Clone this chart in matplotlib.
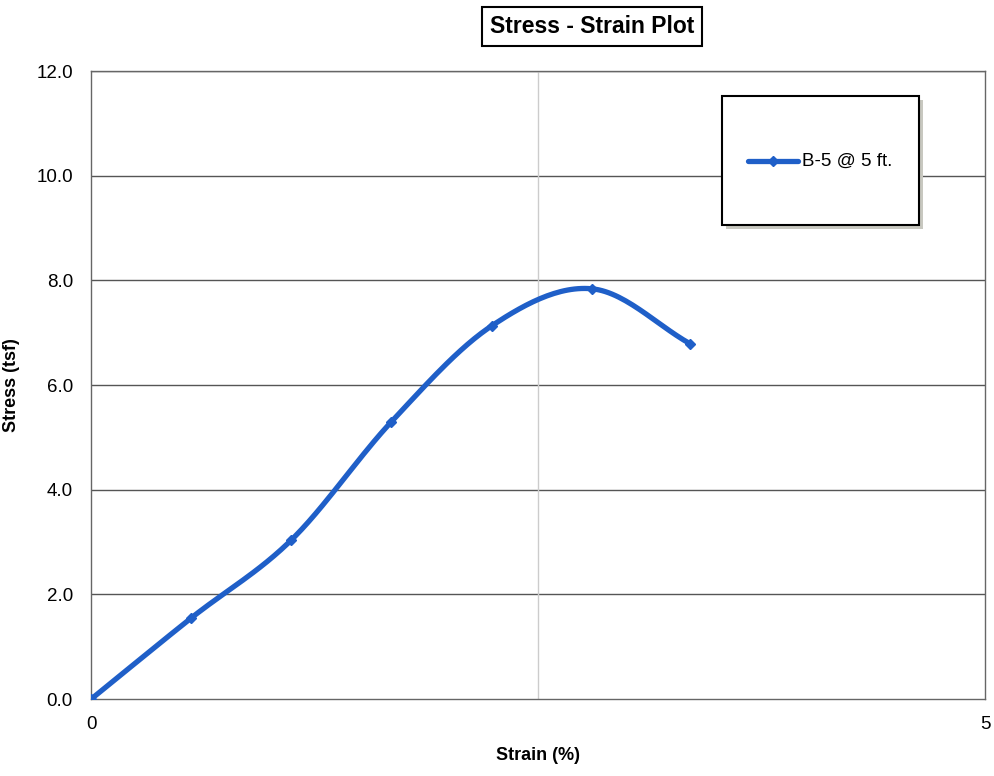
import matplotlib.pyplot as plt
import numpy as np
from matplotlib.patches import FancyBboxPatch

plt.rcParams['font.family'] = ['Liberation Sans', 'DejaVu Sans']

# data
strain = [0.0, 0.56, 1.12, 1.68, 2.24, 2.80, 3.35]
stress = [0.0, 1.55, 3.04, 5.30, 7.13, 7.84, 6.79]
series_label = 'B-5 @ 5 ft.'
yticks = [0, 2, 4, 6, 8, 10, 12]

LINE_COLOR = '#1f5fc8'


def smooth(x, y, n=30):
    """Catmull-Rom curve through the points (like Excel's smoothed line)."""
    x = np.asarray(x, float)
    y = np.asarray(y, float)
    px = np.concatenate([[2 * x[0] - x[1]], x, [2 * x[-1] - x[-2]]])
    py = np.concatenate([[2 * y[0] - y[1]], y, [2 * y[-1] - y[-2]]])
    xs, ys = [], []
    t = np.linspace(0, 1, n)
    for i in range(1, len(px) - 2):
        for arr, out in ((px, xs), (py, ys)):
            p0, p1, p2, p3 = arr[i - 1:i + 3]
            out.extend(0.5 * ((2 * p1) + (-p0 + p2) * t
                              + (2 * p0 - 5 * p1 + 4 * p2 - p3) * t ** 2
                              + (-p0 + 3 * p1 - 3 * p2 + p3) * t ** 3))
    return np.array(xs), np.array(ys)


fig = plt.figure(figsize=(9.95, 7.76), dpi=100)
ax = fig.add_axes([0.0915, 0.099, 0.8985, 0.8095])

sx, sy = smooth(strain, stress)
ax.plot(sx, sy, color=LINE_COLOR, linewidth=3.8, solid_capstyle='round', zorder=3)
ax.plot(strain, stress, linestyle='none', marker='D', markersize=5,
        color=LINE_COLOR, zorder=4)

ax.set_xlim(0, 5)
ax.set_ylim(0, 12)
ax.set_xticks([0, 5])
ax.set_xticklabels(['0', '5'])
ax.set_yticks(yticks)
ax.set_yticklabels([f'{v:.1f}' for v in yticks])
ax.tick_params(axis='y', length=0, labelsize=13.5, pad=13)
ax.tick_params(axis='x', length=0, labelsize=13.5, pad=12)

for v in yticks[1:]:
    ax.axhline(v, color='#555555', linewidth=1.0, zorder=1)
ax.axvline(2.5, color='#cccccc', linewidth=1.0, zorder=1)
for s in ax.spines.values():
    s.set_color('#666666')
    s.set_linewidth(1.0)

ax.set_xlabel('Strain (%)', fontsize=13, fontweight='bold', labelpad=10)
ax.set_ylabel('Stress (tsf)', fontsize=13, fontweight='bold', labelpad=12)

# title box
fig.text(0.595, 0.966, 'Stress - Strain Plot', ha='center', va='center',
         fontsize=16.5, fontweight='bold',
         bbox=dict(boxstyle='square,pad=0.35', facecolor='white',
                   edgecolor='black', linewidth=1.5))

# legend box with shadow
lx0, ly0, lw, lh = 0.726, 0.71, 0.198, 0.166
fig.patches.append(FancyBboxPatch((lx0 + 0.004, ly0 - 0.005), lw, lh,
                                  boxstyle='square,pad=0', transform=fig.transFigure,
                                  facecolor='#c8c8c0', edgecolor='none', zorder=5))
fig.patches.append(FancyBboxPatch((lx0, ly0), lw, lh,
                                  boxstyle='square,pad=0', transform=fig.transFigure,
                                  facecolor='white', edgecolor='black',
                                  linewidth=1.5, zorder=6))
fig.add_artist(plt.Line2D([0.752, 0.802], [0.792, 0.792], color=LINE_COLOR,
                          linewidth=3.8, solid_capstyle='round',
                          transform=fig.transFigure, zorder=7))
fig.add_artist(plt.Line2D([0.777], [0.792], marker='D', markersize=5,
                          color=LINE_COLOR, transform=fig.transFigure, zorder=7))
fig.text(0.806, 0.792, series_label, ha='left', va='center', fontsize=13.5, zorder=8)

fig.savefig('out.png', dpi=100, facecolor='white')
